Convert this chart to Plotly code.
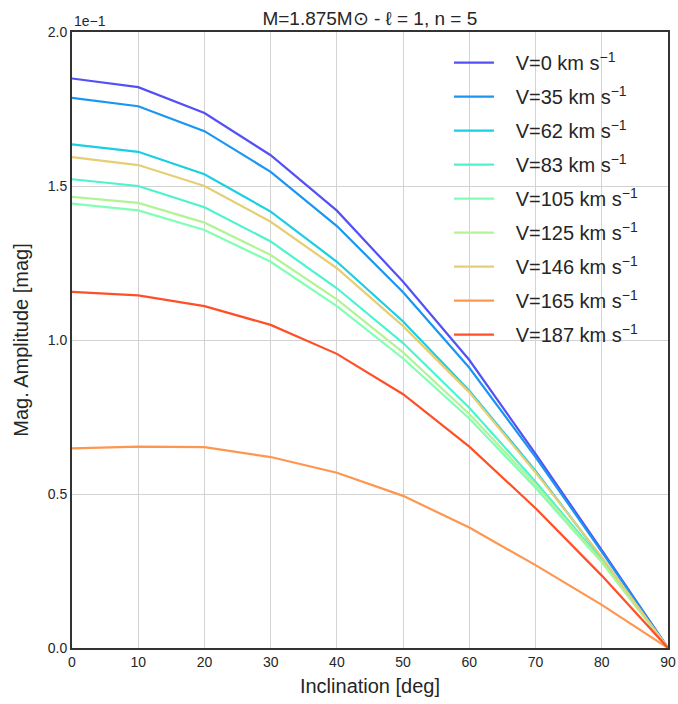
import plotly.graph_objects as go

inclination = [0, 10, 20, 30, 40, 50, 60, 70, 80, 90]
velocities = [0, 35, 62, 83, 105, 125, 146, 165, 187]

amp_v0 = [0.1849, 0.1821, 0.1737, 0.1600, 0.1420, 0.1189, 0.0935, 0.0630, 0.0318, 0.0]
amp_v35 = [0.1786, 0.1759, 0.1678, 0.1546, 0.1370, 0.1155, 0.0910, 0.0620, 0.0312, 0.0]
amp_v62 = [0.1635, 0.1611, 0.1538, 0.1417, 0.1254, 0.1060, 0.0835, 0.0575, 0.0292, 0.0]
amp_v83 = [0.1522, 0.1500, 0.1431, 0.1320, 0.1168, 0.0990, 0.0780, 0.0540, 0.0285, 0.0]
amp_v105 = [0.1443, 0.1421, 0.1357, 0.1254, 0.1110, 0.0940, 0.0745, 0.0520, 0.0278, 0.0]
amp_v125 = [0.1465, 0.1445, 0.1381, 0.1276, 0.1132, 0.0960, 0.0760, 0.0530, 0.0280, 0.0]
amp_v146 = [0.1594, 0.1568, 0.1500, 0.1384, 0.1233, 0.1045, 0.0830, 0.0570, 0.0295, 0.0]
amp_v165 = [0.0648, 0.0654, 0.0652, 0.0620, 0.0569, 0.0494, 0.0391, 0.0269, 0.0140, 0.0]
amp_v187 = [0.1156, 0.1145, 0.1110, 0.1049, 0.0955, 0.0824, 0.0654, 0.0454, 0.0235, 0.0]

series = [amp_v0, amp_v35, amp_v62, amp_v83, amp_v105, amp_v125, amp_v146, amp_v165, amp_v187]
colors = ["#5450f6", "#1a96f2", "#1acee3", "#4df3ce", "#80ffb4", "#b3f396",
          "#e6ce74", "#ff964f", "#ff4f28"]

y_tickvals = [0.0, 0.05, 0.10, 0.15, 0.20]
y_ticktext = ["0.0", "0.5", "1.0", "1.5", "2.0"]
x_tickvals = [0, 10, 20, 30, 40, 50, 60, 70, 80, 90]

FONT = "Liberation Sans"
TXT = "#262626"
PAD = "\u00a0\u00a0\u00a0"

fig = go.Figure()
for i, (v, ys, c) in enumerate(zip(velocities, series, colors)):
    fig.add_trace(go.Scatter(
        x=inclination, y=ys, mode="lines",
        line=dict(color=c, width=2.2),
        name=f"{PAD}V={v} km s<sup>\u22121</sup>",
        legendgroup=f"g{i}",
    ))

fig.update_layout(
    width=678, height=704,
    margin=dict(l=72, r=10, t=32, b=56),
    plot_bgcolor="white", paper_bgcolor="white",
    font=dict(family=FONT, color=TXT, size=14),
    title=dict(text="M=1.875M\u2299 - \u2113 = 1, n = 5", x=0.5455, xanchor="center",
               y=0.974, yanchor="middle", font=dict(size=19, color=TXT)),
    showlegend=True,
    legend=dict(x=0.6325, y=0.982, xanchor="left", yanchor="top",
                bgcolor="rgba(0,0,0,0)", font=dict(size=20, color=TXT),
                tracegroupgap=5, itemwidth=40),
)
fig.update_xaxes(
    range=[0, 90], tickvals=x_tickvals, showgrid=True, gridcolor="#d3d3d3", gridwidth=1,
    showline=True, linecolor="#333333", linewidth=2, mirror=True, zeroline=False,
    ticks="", tickfont=dict(size=14, color=TXT), automargin=False,
    title=dict(text="Inclination [deg]", font=dict(size=20, color=TXT), standoff=10),
)
fig.update_yaxes(
    range=[0, 0.2], tickvals=y_tickvals, ticktext=y_ticktext, showgrid=True,
    gridcolor="#d3d3d3", gridwidth=1,
    showline=True, linecolor="#333333", linewidth=2, mirror=True, zeroline=False,
    ticks="", tickfont=dict(size=14, color=TXT), automargin=False,
    title=dict(text="Mag. Amplitude [mag]", font=dict(size=20, color=TXT), standoff=14),
)
fig.add_annotation(text="1e\u22121", xref="paper", yref="paper", x=0, y=1,
                   xanchor="left", yanchor="bottom", showarrow=False,
                   font=dict(size=14, color=TXT), yshift=1)

fig.write_html("out.html")
